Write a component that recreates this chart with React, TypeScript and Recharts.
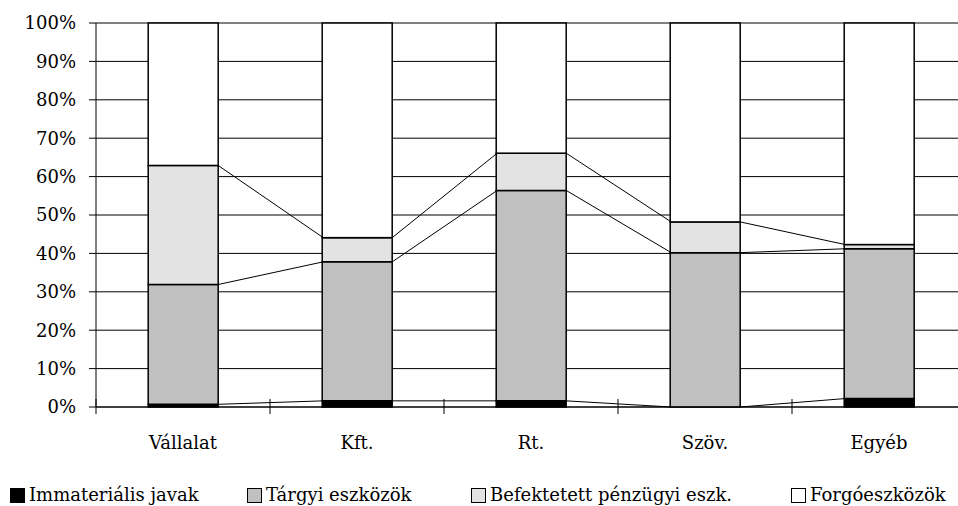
import * as React from "react";
import { Bar, BarChart, CartesianGrid, XAxis, YAxis } from "recharts";

// Kategóriák és sorozatok (százalékos megoszlás, oszloponként 100%)
const categories = ["Vállalat", "Kft.", "Rt.", "Szöv.", "Egyéb"];
const immaterialis = [0.7, 1.6, 1.6, 0, 2.2];
const targyi = [31.2, 36.2, 54.8, 40.2, 39.0];
const befektetett = [31.0, 6.3, 9.7, 8.0, 1.1];
const forgo = [37.1, 55.9, 33.9, 51.8, 57.7];
const yTicks = [0, 10, 20, 30, 40, 50, 60, 70, 80, 90, 100];

const seriesNames = [
  "Immateriális javak",
  "Tárgyi eszközök",
  "Befektetett pénzügyi eszk.",
  "Forgóeszközök",
];
const seriesColors = ["#000000", "#C0C0C0", "#E3E3E3", "#FFFFFF"];

const FONT = "'DejaVu Serif', 'Liberation Serif', serif";
const FS = 18;
const GAP = 0.3; // barCategoryGap
const LEGEND_X = [10, 247, 471, 791];

const rows = categories.map((name, i) => ({
  name,
  immat: immaterialis[i],
  targyi: targyi[i],
  bef: befektetett[i],
  forgo: forgo[i],
}));

// összesített határok a sorozatvonalakhoz
const cum1 = immaterialis;
const cum2 = immaterialis.map((v, i) => v + targyi[i]);
const cum3 = cum2.map((v, i) => v + befektetett[i]);
const boundaries = [cum1, cum2, cum3];

/** Legfelső szelet + Excel-féle sorozatvonalak a következő oszlopig. */
function TopSegment(props: any) {
  const { x, y, width, height, index } = props;
  const total = cum3[index] + forgo[index];
  const ppu = height / forgo[index];
  const zeroY = y + total * ppu;
  const band = width / (1 - 2 * GAP);
  const last = index === categories.length - 1;
  return (
    <g>
      <rect x={x} y={y} width={width} height={height} fill="#fff" stroke="#000" strokeWidth={1.5} />
      {!last &&
        boundaries.map((b, k) => (
          <line
            key={k}
            x1={x + width}
            y1={zeroY - b[index] * ppu}
            x2={x + band}
            y2={zeroY - b[index + 1] * ppu}
            stroke="#000"
            strokeWidth={1}
          />
        ))}
    </g>
  );
}

function CategoryTick(props: any) {
  const { x, y, payload } = props;
  const half = payload.offset ?? 87;
  return (
    <g>
      <line x1={x - half} y1={y - 8} x2={x - half} y2={y + 7} stroke="#000" strokeWidth={1} />
      <text x={x} y={y + 42} textAnchor="middle" fill="#000" style={{ fontFamily: FONT }} fontSize={FS}>
        {payload.value}
      </text>
    </g>
  );
}

export default function App() {
  return (
    <div
      style={{
        position: "absolute",
        left: 0,
        top: 0,
        width: 958,
        height: 506,
        overflow: "hidden",
        background: "#fff",
        fontFamily: FONT,
      }}
    >
      <BarChart
        width={975}
        height={470}
        data={rows}
        margin={{ top: 23, right: 9, bottom: 33, left: 0 }}
        barCategoryGap={`${GAP * 100}%`}
        style={{ fontFamily: FONT }}
      >
        <CartesianGrid vertical={false} stroke="#000" strokeWidth={1} />
        <XAxis
          dataKey="name"
          height={30}
          axisLine={{ stroke: "#000" }}
          tickLine={false}
          tickSize={0}
          tickMargin={0}
          tick={<CategoryTick />}
          interval={0}
        />
        <YAxis
          width={96}
          domain={[0, 100]}
          ticks={yTicks}
          tickFormatter={(v: number) => `${v}%`}
          axisLine={{ stroke: "#000" }}
          tickLine={{ stroke: "#000" }}
          tickSize={7}
          tickMargin={13}
          tick={{ fill: "#000", fontSize: FS, style: { fontFamily: FONT } }}
          allowDecimals={false}
        />
        <Bar dataKey="immat" stackId="a" fill={seriesColors[0]} stroke="#000" strokeWidth={1.5} isAnimationActive={false} />
        <Bar dataKey="targyi" stackId="a" fill={seriesColors[1]} stroke="#000" strokeWidth={1.5} isAnimationActive={false} />
        <Bar dataKey="bef" stackId="a" fill={seriesColors[2]} stroke="#000" strokeWidth={1.5} isAnimationActive={false} />
        <Bar dataKey="forgo" stackId="a" fill={seriesColors[3]} shape={<TopSegment />} isAnimationActive={false} />
      </BarChart>
      {/* jelmagyarázat */}
      {seriesNames.map((n, i) => (
        <div
          key={n}
          style={{
            position: "absolute",
            left: LEGEND_X[i],
            top: 483,
            display: "flex",
            alignItems: "center",
            whiteSpace: "nowrap",
            fontSize: FS,
            lineHeight: "24px",
            color: "#000",
          }}
        >
          <span
            style={{
              display: "inline-block",
              width: 13,
              height: 13,
              background: seriesColors[i],
              border: "1px solid #000",
              marginRight: 4,
            }}
          />
          <span>{n}</span>
        </div>
      ))}
    </div>
  );
}
